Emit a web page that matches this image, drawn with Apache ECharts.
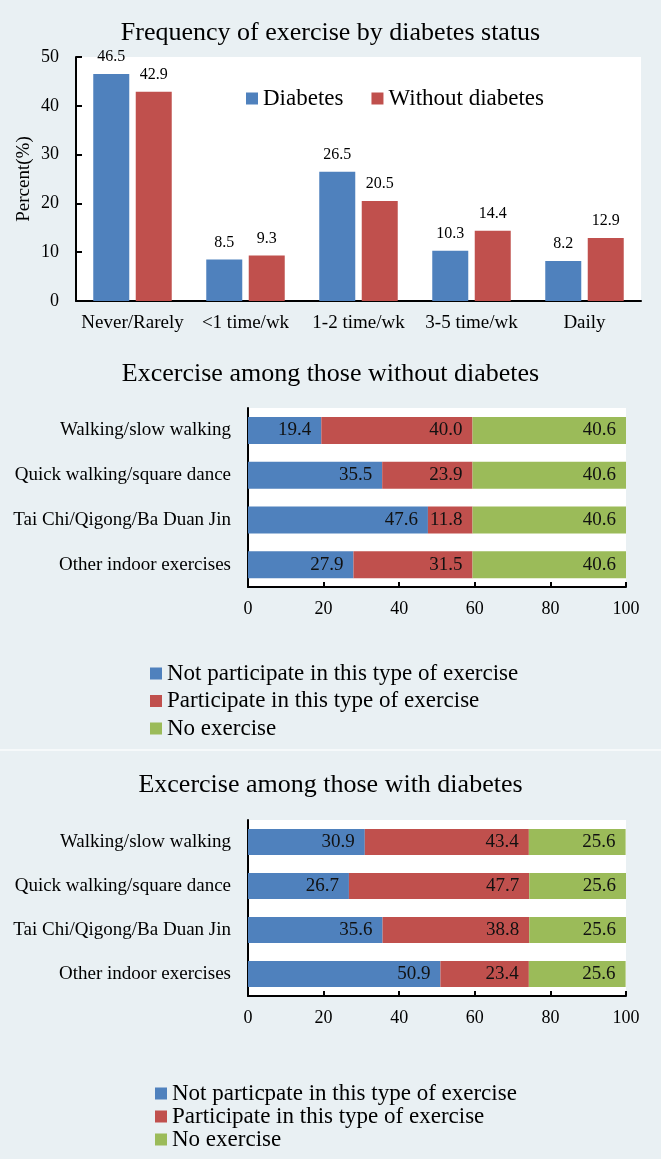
<!DOCTYPE html>
<html>
<head>
<meta charset="utf-8">
<script src="https://cdn.jsdelivr.net/npm/echarts@6/dist/echarts.min.js"></script>
<style>
html,body{margin:0;padding:0;background:#e9f0f3;}
#c{width:661px;height:1159px;}
</style>
</head>
<body>
<div id="c"></div>
<script>
// ---- Data ----
const freqCategories = ['Never/Rarely', '<1 time/wk', '1-2 time/wk', '3-5 time/wk', 'Daily'];
const freqDiabetes = [46.5, 8.5, 26.5, 10.3, 8.2];
const freqWithout = [42.9, 9.3, 20.5, 14.4, 12.9];
const freqTicks = [0, 10, 20, 30, 40, 50];

const exCategories = ['Walking/slow walking', 'Quick walking/square dance', 'Tai Chi/Qigong/Ba Duan Jin', 'Other indoor exercises'];

const withoutNotPart = [19.4, 35.5, 47.6, 27.9];
const withoutPart = [40.0, 23.9, 11.8, 31.5];
const withoutNoEx = [40.6, 40.6, 40.6, 40.6];

const withNotPart = [30.9, 26.7, 35.6, 50.9];
const withPart = [43.4, 47.7, 38.8, 23.4];
const withNoEx = [25.6, 25.6, 25.6, 25.6];

const pctTicks = [0, 20, 40, 60, 80, 100];

const titles = ['Frequency of exercise by diabetes status', 'Excercise among those without diabetes', 'Excercise among those with diabetes'];
const legend1Names = ['Not participate in this type of exercise', 'Participate in this type of exercise', 'No exercise'];
const legend2Names = ['Not particpate in this type of exercise', 'Participate in this type of exercise', 'No exercise'];

// ---- Styles ----
const FONT = 'Liberation Serif';
const BLUE = '#4f81bd', RED = '#c0504d', GREEN = '#9bbb59';
const BLACK = '#000';

const chart = echarts.init(document.getElementById('c'), null, {renderer: 'canvas'});

const fmt1 = p => Number(p.value).toFixed(1);

function hbarSeries(names, data, gridIdx, barW) {
  const colors = [BLUE, RED, GREEN];
  return names.map((n, i) => ({
    name: n,
    type: 'bar',
    stack: 'st' + gridIdx,
    xAxisIndex: gridIdx,
    yAxisIndex: gridIdx,
    barWidth: barW,
    data: data[i],
    itemStyle: {color: colors[i]},
    label: {show: true, position: 'insideRight', distance: 10, formatter: fmt1,
      color: '#111', fontFamily: FONT, fontSize: 19},
    emphasis: {disabled: true},
    animation: false
  }));
}

const valueAxisH = (gi) => ({
  type: 'value', gridIndex: gi, min: 0, max: 100, interval: 20,
  axisLine: {show: true, lineStyle: {color: BLACK, width: 2}},
  axisTick: {show: true, inside: true, length: 5, lineStyle: {color: BLACK, width: 2}},
  axisLabel: {color: BLACK, fontFamily: FONT, fontSize: 18, margin: 13,
    formatter: v => pctTicks.includes(v) ? String(v) : ''},
  splitLine: {show: false}
});
const catAxisH = (gi) => ({
  type: 'category', gridIndex: gi, data: exCategories, inverse: true,
  axisLine: {show: true, lineStyle: {color: BLACK, width: 2}},
  axisTick: {show: false},
  axisLabel: {color: BLACK, fontFamily: FONT, fontSize: 19, margin: 17}
});

const titleStyle = {fontFamily: FONT, fontSize: 26, fontWeight: 'normal', color: BLACK};

const option = {
  backgroundColor: '#e9f0f3',
  animation: false,
  textStyle: {fontFamily: FONT},
  title: [
    {text: titles[0], left: 'center', top: 20, padding: 0, textStyle: titleStyle},
    {text: titles[1], left: 'center', top: 361, padding: 0, textStyle: titleStyle},
    {text: titles[2], left: 'center', top: 772, padding: 0, textStyle: titleStyle}
  ],
  legend: [
    {data: ['Diabetes', 'Without diabetes'], left: 246, top: 87, padding: 0, orient: 'horizontal',
      itemWidth: 12, itemHeight: 12, itemGap: 28, icon: 'rect',
      textStyle: {fontFamily: FONT, fontSize: 23, color: BLACK}},
    {data: legend1Names, left: 150, top: 662, padding: 0, orient: 'vertical',
      itemWidth: 12, itemHeight: 12, itemGap: 4.5, icon: 'rect',
      textStyle: {fontFamily: FONT, fontSize: 23, lineHeight: 23, color: BLACK}},
    {data: legend2Names, left: 155, top: 1082, padding: 0, orient: 'vertical',
      itemWidth: 12, itemHeight: 12, itemGap: 0, icon: 'rect',
      textStyle: {fontFamily: FONT, fontSize: 23, lineHeight: 22.5, color: BLACK}}
  ],
  grid: [
    {left: 76, top: 57, width: 565, height: 244, show: true, backgroundColor: '#fff', borderWidth: 0},
    {left: 248, top: 408, width: 378, height: 179, show: true, backgroundColor: '#fff', borderWidth: 0},
    {left: 248, top: 820, width: 378, height: 176, show: true, backgroundColor: '#fff', borderWidth: 0}
  ],
  xAxis: [
    {type: 'category', gridIndex: 0, data: freqCategories,
      axisLine: {show: true, lineStyle: {color: BLACK, width: 2}},
      axisTick: {show: false},
      axisLabel: {color: BLACK, fontFamily: FONT, fontSize: 19, margin: 13, interval: 0}},
    valueAxisH(1),
    valueAxisH(2)
  ],
  yAxis: [
    {type: 'value', gridIndex: 0, min: 0, max: 50, interval: 10,
      name: 'Percent(%)', nameLocation: 'middle', nameGap: 42, nameRotate: 90, nameMoveOverlap: false,
      nameTextStyle: {fontFamily: FONT, fontSize: 19, color: BLACK},
      axisLine: {show: true, lineStyle: {color: BLACK, width: 2}},
      axisTick: {show: true, inside: true, length: 6, lineStyle: {color: BLACK, width: 2}},
      axisLabel: {color: BLACK, fontFamily: FONT, fontSize: 18, margin: 17,
        formatter: v => freqTicks.includes(v) ? String(v) : ''},
      splitLine: {show: false}},
    catAxisH(1),
    catAxisH(2)
  ],
  series: [
    {name: 'Diabetes', type: 'bar', xAxisIndex: 0, yAxisIndex: 0, data: freqDiabetes,
      barWidth: 36, barGap: '18%', itemStyle: {color: BLUE},
      label: {show: true, position: 'top', distance: 9, formatter: fmt1, color: BLACK, fontFamily: FONT, fontSize: 16}},
    {name: 'Without diabetes', type: 'bar', xAxisIndex: 0, yAxisIndex: 0, data: freqWithout,
      barWidth: 36, barGap: '18%', itemStyle: {color: RED},
      label: {show: true, position: 'top', distance: 9, formatter: fmt1, color: BLACK, fontFamily: FONT, fontSize: 16}},
    ...hbarSeries(legend1Names, [withoutNotPart, withoutPart, withoutNoEx], 1, 27),
    ...hbarSeries(legend2Names, [withNotPart, withPart, withNoEx], 2, 26)
  ],
  graphic: [
    {type: 'rect', left: 0, top: 749, shape: {width: 661, height: 2}, style: {fill: '#f6f9fa'}, silent: true}
  ]
};
chart.setOption(option);
</script>
</body>
</html>
